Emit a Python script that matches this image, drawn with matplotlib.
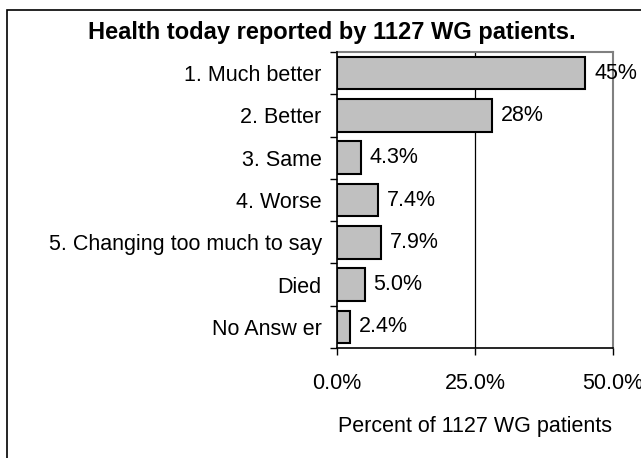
import matplotlib
matplotlib.use("Agg")
import matplotlib.pyplot as plt
from matplotlib.patches import Rectangle
import numpy as np

categories = ["1. Much better", "2. Better", "3. Same", "4. Worse",
              "5. Changing too much to say", "Died", "No Answ er"]
values = [45.0, 28.0, 4.3, 7.4, 7.9, 5.0, 2.4]
value_labels = ["45%", "28%", "4.3%", "7.4%", "7.9%", "5.0%", "2.4%"]
xticks = [0, 25, 50]
xtick_labels = ["0.0%", "25.0%", "50.0%"]

plt.rcParams['font.family'] = ['Liberation Sans', 'DejaVu Sans']
FS = 15.5

W, H = 641, 458
fig = plt.figure(figsize=(W / 100, H / 100), dpi=100)

# figure border (cropped on right/bottom)
fig.patches.append(Rectangle((7 / W, -0.1), 1.2, 1 - 10 / H + 0.1,
                             transform=fig.transFigure, fill=False,
                             edgecolor='black', linewidth=1.2))

ax = fig.add_axes([337 / W, 1 - 348 / H, (613 - 337) / W, (348 - 52) / H])

y = np.arange(len(categories))
ax.barh(y, values, height=0.77, color='#C0C0C0', edgecolor='black',
        linewidth=1.5, zorder=3)
for yi, v, lab in zip(y, values, value_labels):
    ax.text(v + 1.6, yi, lab, va='center', ha='left', fontsize=FS, zorder=4)

ax.set_xlim(0, 50)
ax.set_ylim(len(categories) - 0.5, -0.5)
ax.set_xticks(xticks)
ax.set_xticklabels(xtick_labels, fontsize=FS)
ax.tick_params(axis='x', direction='out', length=5, pad=13, width=1)
ax.set_yticks(y)
ax.set_yticklabels(categories, fontsize=FS)
ax.tick_params(axis='y', which='major', length=0, pad=11)
ax.set_yticks(np.arange(-0.5, len(categories), 1), minor=True)
ax.tick_params(axis='y', which='minor', direction='out', length=5, width=1)

ax.axvline(25, color='black', linewidth=0.9, zorder=1)
for s in ['top', 'right']:
    ax.spines[s].set_color('#808080')
    ax.spines[s].set_linewidth(1.5)
for s in ['left', 'bottom']:
    ax.spines[s].set_color('black')
    ax.spines[s].set_linewidth(1.2)
    ax.spines[s].set_zorder(5)

ax.set_xlabel("Percent of 1127 WG patients", fontsize=FS, labelpad=16)

fig.text(332 / W, 1 - 32 / H, "Health today reported by 1127 WG patients.",
         ha='center', va='center', fontsize=17, fontweight='bold')

fig.savefig("out.png", dpi=100)
